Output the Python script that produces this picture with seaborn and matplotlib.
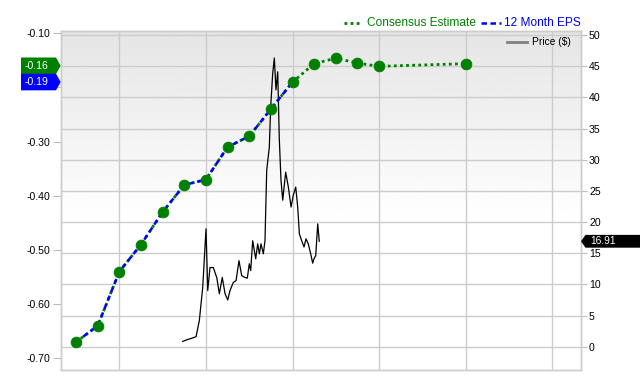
import numpy as np
import pandas as pd
import matplotlib
matplotlib.use("Agg")
import matplotlib.pyplot as plt
import seaborn as sns
from matplotlib.lines import Line2D
from matplotlib.patches import Polygon

# ---------------- data ----------------
eps_t = [2023.5, 2023.75, 2024.0, 2024.25, 2024.5, 2024.75, 2025.0, 2025.25,
         2025.5, 2025.75, 2026.0]
eps_actual = [-0.67, -0.64, -0.54, -0.49, -0.43, -0.38, -0.37, -0.31,
              -0.29, -0.24, -0.19]
est_t = [2026.25, 2026.5, 2026.75, 2027.0, 2028.0]
est_vals = [-0.156, -0.146, -0.155, -0.161, -0.156]

price_t = [2024.732, 2024.778, 2024.836, 2024.886, 2024.924, 2024.963,
           2025.001, 2025.021, 2025.047, 2025.085, 2025.125, 2025.155, 2025.189,
           2025.221, 2025.252, 2025.278, 2025.316, 2025.348, 2025.382, 2025.413,
           2025.451, 2025.478, 2025.501, 2025.517, 2025.540, 2025.575, 2025.598,
           2025.617, 2025.636, 2025.663, 2025.682, 2025.702, 2025.732, 2025.748,
           2025.771, 2025.790, 2025.809, 2025.829, 2025.848, 2025.867, 2025.887,
           2025.921, 2025.952, 2025.983, 2026.009, 2026.037, 2026.060, 2026.079,
           2026.106, 2026.133, 2026.156, 2026.182, 2026.210, 2026.233, 2026.248,
           2026.268, 2026.291, 2026.309]
price = [0.85, 1.1, 1.35, 1.6, 4.2, 9.5,
         18.9, 9.0, 12.7, 12.7, 11.1, 8.5, 11.1, 8.5, 7.5, 9.0,
         10.3, 10.6, 13.8, 11.4, 11.1, 11.0, 13.3, 12.2, 17.0, 14.1,
         16.5, 14.9, 16.5, 14.9, 17.0, 28.3, 32.0, 38.5, 43.8, 46.3,
         41.2, 44.1, 33.1, 26.7, 23.5, 28.0, 25.6, 22.4,
         24.3, 25.6, 22.4, 18.1, 17.0, 16.0, 17.3, 16.5, 14.9, 13.4,
         14.1, 14.6, 19.7, 16.91]

last_price = 16.91
eps_last = -0.19
est_next = -0.16

year_ticks = [2024, 2025, 2026, 2027, 2028, 2029]
year_labels = ["2024", "2025", "2026", "2027", "2028", "2029"]
eps_ticks = [-0.70, -0.60, -0.50, -0.40, -0.30, -0.20, -0.10]
eps_labels = ["-0.70", "-0.60", "-0.50", "-0.40", "-0.30", "", "-0.10"]
price_ticks = [0, 5, 10, 15, 20, 25, 30, 35, 40, 45, 50]

series_names = ["Consensus Estimate", "12 Month EPS", "Price ($)"]

# ---------------- style ----------------
GREEN = "#008000"
BLUE = "#0000ff"
GRID = "#cccccc"
FONT = ["Liberation Sans", "DejaVu Sans"]
plt.rcParams["font.family"] = FONT

W, H = 640, 380
fig = plt.figure(figsize=(W / 100, H / 100), dpi=100)
L, R, B, T = 60.7, 580.7, 10.0, 349.3   # axes box in pixels (from bottom)
ax2 = fig.add_axes([L / W, B / H, (R - L) / W, (T - B) / H])  # price (back)
ax = ax2.twinx()                                                 # eps (front)
ax.yaxis.tick_left()
ax.yaxis.set_label_position("left")
ax2.yaxis.tick_right()

xlim = (2023.323, 2029.328)
eps_lim = (-0.7216, -0.0952)
price_lim = (-3.74, 50.69)

# background gradient
grad = np.ones((200, 2))
tt = np.linspace(0, 1, 200)
grad[:, 0] = 0.897 + (1 - 0.897) * np.clip(tt / 0.56, 0, 1)
grad[:, 1] = grad[:, 0]
ax2.imshow(grad, extent=[0, 1, 0, 1], transform=ax2.transAxes, aspect="auto",
           cmap="gray", vmin=0, vmax=1, origin="upper", zorder=0,
           interpolation="bilinear")

# price line
pdf = pd.DataFrame({"t": price_t, "price": price})
sns.lineplot(data=pdf, x="t", y="price", ax=ax2, color="black", lw=0.9,
             sort=False, zorder=3)

# EPS lines
all_t = eps_t + est_t
all_v = eps_actual + est_vals
cdf = pd.DataFrame({"t": all_t, "eps": all_v})
edf = pd.DataFrame({"t": eps_t, "eps": eps_actual})
sns.lineplot(data=cdf, x="t", y="eps", ax=ax, color=GREEN, lw=2.0,
             linestyle=(0, (1, 1.2)), sort=False, zorder=3)
sns.lineplot(data=edf, x="t", y="eps", ax=ax, color=BLUE, lw=1.8,
             linestyle=(0, (2.2, 1.4)), sort=False, zorder=4)
sns.scatterplot(data=cdf, x="t", y="eps", ax=ax, color=GREEN, s=60,
                edgecolor=GREEN, linewidth=0.6, zorder=5)

# limits
ax.set_xlim(*xlim)
ax2.set_xlim(*xlim)
ax.set_ylim(*eps_lim)
ax2.set_ylim(*price_lim)

# grid (on the back axes)
ax.grid(False)
ax2.xaxis.set_visible(True)
ax2.set_xticks(year_ticks)
ax2.tick_params(axis="x", labelbottom=False, length=0)
ax2.set_yticks(price_ticks)
ax2.grid(True, color=GRID, lw=1.0)
ax2.set_axisbelow(True)

# ticks
ax.set_xticks(year_ticks)
ax.set_xticklabels(year_labels)
ax.tick_params(axis="x", length=0, pad=2.5, labelsize=7.6, labelcolor="black")
ax.set_yticks(eps_ticks)
ax.set_yticklabels(eps_labels)
ax.tick_params(axis="y", length=5.5, width=0.8, color="#bbbbbb", pad=2,
               labelsize=7.6, labelcolor="black")
ax2.set_yticklabels([str(v) for v in price_ticks])
ax2.tick_params(axis="y", length=4, width=0.8, color="#bbbbbb", pad=2,
                labelsize=7.6, labelcolor="black")
for a in (ax, ax2):
    a.set_xlabel("")
    a.set_ylabel("")
    for s in a.spines.values():
        s.set_color(GRID)
        s.set_linewidth(1.0)
ax.patch.set_visible(False)

# ---------------- legend ----------------
def fy(y_from_top):
    return 1 - y_from_top / H

fig.add_artist(Line2D([344 / W, 362 / W], [fy(22.7), fy(22.7)], color=GREEN,
                      lw=2.0, linestyle=(0, (1, 1.2)), transform=fig.transFigure))
fig.text(367 / W, fy(23.3), series_names[0], color=GREEN, fontsize=8.6,
         va="center", ha="left")
fig.add_artist(Line2D([480.7 / W, 500.7 / W], [fy(22.7), fy(22.7)], color=BLUE,
                      lw=1.8, linestyle=(0, (2.2, 1.4)), transform=fig.transFigure))
fig.text(503.5 / W, fy(23.3), series_names[1], color=BLUE, fontsize=8.6,
         va="center", ha="left")
fig.add_artist(Line2D([506.7 / W, 526.7 / W], [fy(41.7), fy(41.7)], color="#808080",
                      lw=2.0, transform=fig.transFigure))
fig.text(532.5 / W, fy(41.7), series_names[2], color="black", fontsize=7.4,
         va="center", ha="left")

# ---------------- value tags ----------------
fig.canvas.draw()


def pix_y(a, v):
    return a.transData.transform((xlim[0], v))[1]


def left_tag(val, color):
    yc = pix_y(ax, val)
    h = 8.3
    x0, x1, tip = 21, 56, L
    pts = [(x0, yc - h), (x1, yc - h), (tip, yc), (x1, yc + h), (x0, yc + h)]
    pts = [(px / W, py / H) for px, py in pts]
    fig.add_artist(Polygon(pts, closed=True, facecolor=color, edgecolor="none",
                           transform=fig.transFigure, zorder=10))
    fig.text((x0 + 3.5) / W, yc / H, f"{val:.2f}", color="white", fontsize=7.6,
             va="center", ha="left", zorder=11)


left_tag(est_next, GREEN)
left_tag(eps_last, BLUE)

yc = pix_y(ax2, last_price)
h = 6.4
pts = [(581, yc), (585.5, yc + h), (640, yc + h), (640, yc - h), (585.5, yc - h)]
pts = [(px / W, py / H) for px, py in pts]
fig.add_artist(Polygon(pts, closed=True, facecolor="black", edgecolor="none",
                       transform=fig.transFigure, zorder=10))
fig.text(590 / W, yc / H, f"{last_price:.2f}", color="white", fontsize=7.4,
         va="center", ha="left", zorder=11)

fig.savefig("out.png", dpi=100)
